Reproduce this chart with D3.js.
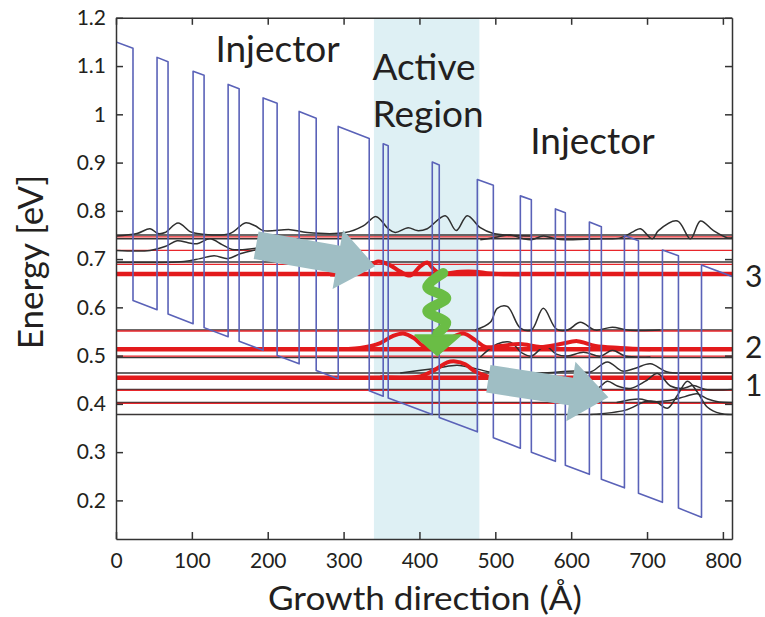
<!DOCTYPE html>
<html><head><meta charset="utf-8">
<script src="https://cdn.jsdelivr.net/npm/d3@7"></script>
<style>
body{margin:0;background:#fff}
svg{display:block}
text{font-family:Lato,"Open Sans",sans-serif;fill:#231f20}
</style>
</head><body>
<svg id="c" width="765" height="617"></svg>
<script>
// ---------- data ----------
const xDomain = [0, 812];
const yDomain = [0.12, 1.2];
const xTicks = [0, 100, 200, 300, 400, 500, 600, 700, 800];
const xTickLabels = ["0", "100", "200", "300", "400", "500", "600", "700", "800"];
const yTicks = [0.2, 0.3, 0.4, 0.5, 0.6, 0.7, 0.8, 0.9, 1.0, 1.1, 1.2];
const yTickLabels = ["0.2", "0.3", "0.4", "0.5", "0.6", "0.7", "0.8", "0.9", "1", "1.1", "1.2"];
const activeRegion = [340, 479];

// conduction band profile vertices (Å, eV)
const profileX = [0, 22.4, 22.4, 54.1, 54.1, 68.6, 68.6, 101.6, 101.6, 116.1, 116.1, 147.8, 147.8, 162.3, 162.3,
  193.9, 193.9, 212.4, 212.4, 241.4, 241.4, 263.9, 263.9, 292.9, 292.9, 333.8, 333.8, 352.2, 352.2, 358.8, 358.8,
  416.9, 416.9, 426.1, 426.1, 476.3, 476.3, 497.4, 497.4, 533.0, 533.0, 547.5, 547.5, 579.2, 579.2, 592.3, 592.3,
  624.0, 624.0, 639.8, 639.8, 670.2, 670.2, 688.7, 688.7, 720.3, 720.3, 741.4, 741.4, 771.8, 771.8, 812];
const profileE = [1.150, 1.137, 0.614, 0.595, 1.118, 1.109, 0.586, 0.566, 1.089, 1.081, 0.558, 0.539, 1.062, 1.053, 0.530,
  0.511, 1.034, 1.023, 0.500, 0.483, 1.006, 0.992, 0.469, 0.452, 0.975, 0.950, 0.427, 0.416, 0.939, 0.935, 0.412,
  0.378, 0.901, 0.895, 0.372, 0.342, 0.865, 0.853, 0.330, 0.308, 0.831, 0.823, 0.300, 0.281, 0.804, 0.796, 0.273,
  0.254, 0.777, 0.767, 0.244, 0.226, 0.749, 0.738, 0.215, 0.196, 0.719, 0.707, 0.184, 0.165, 0.688, 0.664];

// energy levels (eV)
const blackLevels = [0.750, 0.742, 0.694, 0.553, 0.496, 0.464, 0.430, 0.403, 0.378];
const redThinLevels = [0.746, 0.718, 0.689, 0.551, 0.499, 0.428, 0.401];
const redThickLevels = [0.669, 0.513, 0.454];
const levelLabels = ["3", "2", "1"];

// wavefunctions |psi|^2 drawn at their level (Å, eV)
const wfA = [[0,.748],[27.7,.753],[44.9,.763],[55.4,.753],[64.6,.755],[81.8,.775],[97.6,.757],[106.9,.753],[150.4,.753],
  [170.2,.775],[183.4,.769],[194,.759],[229.6,.761],[252,.755],[302.1,.755],[326,.769],[343,.788],[358.8,.763],[368.1,.755],
  [385.2,.765],[397,.759],[410.3,.763],[434,.790],[448.5,.759],[463,.790],[480.2,.765],[497.4,.753],[546.2,.748]];
const wfB = [[480.2,.740],[502.6,.746],[519.8,.750],[536.9,.742],[547.5,.740],[563.3,.748],[579.2,.742],[592.3,.740],
  [638.5,.742],[664.9,.744],[682.1,.757],[691.3,.763],[707.1,.742],[715,.759],[740.1,.779],[757.3,.742],[770.4,.779],
  [787.6,.759],[806.1,.744],[812,.744]];
const wfC = [[0,.718],[44.9,.718],[64.6,.726],[80.5,.738],[95,.734],[106.9,.732],[124,.742],[139.8,.730],[153,.720],
  [170.2,.720],[190.4,.724]];
const wfD = [[0,.693],[89.7,.695],[110.8,.701],[129.3,.707],[147.8,.701],[163.6,.711],[186,.720]];
const wfE1 = [[473.6,.553],[493.4,.569],[502.6,.598],[515.8,.602],[533.0,.557],[547.5,.553],[563.3,.598],[580.5,.555],
  [595.0,.553],[612.1,.569],[631.9,.553],[654.4,.559],[674.2,.553],[717.7,.553]];
const wfE2 = [[480.2,.497],[502.6,.524],[519.8,.528],[535.6,.505],[547.5,.499],[566.0,.520],[580.5,.503],[595.0,.499],
  [616.1,.507],[638.5,.499],[654.4,.511],[671.5,.499],[704.5,.497]];
const wfF = [[374.7,.464],[423.5,.474],[449.9,.480],[476.3,.472],[500.0,.464],[559.4,.464],[605.5,.468],[625.3,.466],
  [647.8,.487],[667.5,.468],[684.7,.474],[704.5,.483],[726.9,.466],[757.3,.464],[812,.464]];
const wfG = [[605.5,.430],[634.6,.432],[647.8,.447],[660.9,.437],[678.1,.432],[697.9,.447],[713.7,.463],[730.9,.437],
  [746.7,.432],[761.2,.438],[777.0,.430],[812,.430]];
const wfH = [[660,.403],[690,.410],[705,.405],[730,.407],[750,.415],[766,.421],[780,.410],[795,.404],[812,.403]];
const wfI = [[625.3,.378],[671.5,.387],[697.9,.405],[711.1,.405],[726.9,.391],[740.1,.418],[753.3,.447],[766.5,.424],
  [779.7,.393],[796.8,.380],[812,.378]];
const wfRed3 = [[282.3,.668],[315.3,.670],[332.5,.685],[345.6,.695],[361.5,.687],[374.7,.674],[387.9,.666],[401.1,.685],
  [410.3,.693],[418.2,.680],[427.4,.670],[453.8,.674],[473.6,.674],[493.4,.670],[533.0,.668]];
const wfRed2 = [[282.3,.513],[321.9,.516],[348.3,.526],[364.1,.540],[378.6,.546],[393.1,.536],[405.0,.520],[420.8,.518],
  [440.6,.536],[457.8,.546],[473.6,.532],[486.8,.518],[506.6,.520],[533.0,.524],[559.4,.518],[585.8,.524],[608.2,.530],
  [631.9,.520],[664.9,.516],[704.5,.513]];
const wfRed1 = [[348.3,.455],[401.1,.457],[420.8,.471],[436.7,.486],[447.2,.488],[460.4,.482],[473.6,.467],[493.4,.455]];

// annotations (Å, eV)
const transportArrows = [
  {from: [184.7, 0.7288], to: [341.7, 0.6854]},
  {from: [490.8, 0.452], to: [649.1, 0.4136]}
];
const photonPath = [[431.4,.671],[410.3,.642],[435.4,.619],[410.3,.592],[435.4,.568],[423.5,.546]];
const photonHead = [[394.5,.5423],[453.8,.5423],[423.5,.5008]];
const regionLabels = [
  {text: "Injector", x: 131, y: 1.108},
  {text: "Active", x: 338, y: 1.072},
  {text: "Region", x: 338, y: 0.974},
  {text: "Injector", x: 546, y: 0.918}
];

// ---------- drawing ----------
const mLeft = 116, mRight = 732, mTop = 17.8, mBottom = 539;
const svg = d3.select("#c");
const x = d3.scaleLinear().domain(xDomain).range([mLeft, mRight]);
const y = d3.scaleLinear().domain(yDomain).range([mBottom, mTop]);

svg.append("defs").append("clipPath").attr("id", "clip")
  .append("rect").attr("x", mLeft).attr("y", mTop).attr("width", mRight - mLeft).attr("height", mBottom - mTop);
const plot = svg.append("g").attr("clip-path", "url(#clip)");

plot.append("rect").attr("x", x(activeRegion[0])).attr("width", x(activeRegion[1]) - x(activeRegion[0]))
  .attr("y", mTop).attr("height", mBottom - mTop).attr("fill", "#def0f4");

function levelLines(cls, data, color, width) {
  plot.selectAll("." + cls).data(data).join("line").attr("class", cls)
    .attr("x1", x(xDomain[0])).attr("x2", x(xDomain[1])).attr("y1", d => y(d)).attr("y2", d => y(d))
    .attr("stroke", color).attr("stroke-width", width);
}
levelLines("bl", blackLevels, "#3a3636", 1.5);
levelLines("rl", redThinLevels, "#e8262b", 1.3);
levelLines("rt", redThickLevels, "#e31a1c", 4.5);

const wline = d3.line().x(d => x(d[0])).y(d => y(d[1])).curve(d3.curveCatmullRom.alpha(0.5));
[wfA, wfB, wfC, wfD, wfE1, wfE2, wfF, wfG, wfH, wfI].forEach(w => {
  plot.append("path").attr("d", wline(w)).attr("fill", "none").attr("stroke", "#2f2f2f").attr("stroke-width", 1.5);
});
[wfRed3, wfRed2, wfRed1].forEach(w => {
  plot.append("path").attr("d", wline(w)).attr("fill", "none").attr("stroke", "#e31a1c").attr("stroke-width", 4);
});

const pline = d3.line().x((d, i) => x(profileX[i])).y((d, i) => y(profileE[i]));
plot.append("path").attr("d", pline(profileX)).attr("fill", "none")
  .attr("stroke", "#5a62b8").attr("stroke-width", 1.6).attr("stroke-linejoin", "round");

// fat transport arrows
function fatArrow(a) {
  const x0 = x(a.from[0]), y0 = y(a.from[1]), x1 = x(a.to[0]), y1 = y(a.to[1]);
  const dx = x1 - x0, dy = y1 - y0, L = Math.hypot(dx, dy), ux = dx / L, uy = dy / L, nx = -uy, ny = ux;
  const bw = 14, hw = 30, hl = 38;
  const bx = x1 - ux * hl, by = y1 - uy * hl;
  const pts = [[x0 + nx * bw, y0 + ny * bw], [bx + nx * bw, by + ny * bw], [bx + nx * hw, by + ny * hw], [x1, y1],
    [bx - nx * hw, by - ny * hw], [bx - nx * bw, by - ny * bw], [x0 - nx * bw, y0 - ny * bw]];
  return "M" + pts.map(p => p.join(",")).join("L") + "Z";
}
plot.selectAll(".arr").data(transportArrows).join("path").attr("class", "arr").attr("d", fatArrow).attr("fill", "#9fbec4");

// photon
plot.append("path").attr("d", d3.line().x(d => x(d[0])).y(d => y(d[1])).curve(d3.curveCatmullRom.alpha(0.5))(photonPath))
  .attr("fill", "none").attr("stroke", "#6abd45").attr("stroke-width", 10).attr("stroke-linecap", "round")
  .attr("stroke-linejoin", "round");
plot.append("path").attr("d", "M" + photonHead.map(d => [x(d[0]), y(d[1])].join(",")).join("L") + "Z")
  .attr("fill", "#6abd45").attr("stroke", "#6abd45").attr("stroke-width", 2).attr("stroke-linejoin", "round");

// axes
const ax = svg.append("g");
ax.append("g").attr("transform", `translate(0,${mBottom})`)
  .call(d3.axisBottom(x).tickValues(xTicks).tickFormat((d, i) => xTickLabels[i]).tickSize(-7).tickSizeOuter(0).tickPadding(14));
ax.append("g").attr("transform", `translate(0,${mTop})`)
  .call(d3.axisTop(x).tickValues(xTicks).tickFormat("").tickSize(-7).tickSizeOuter(0));
ax.append("g").attr("transform", `translate(${mLeft},0)`)
  .call(d3.axisLeft(y).tickValues(yTicks).tickFormat((d, i) => yTickLabels[i]).tickSize(-7).tickSizeOuter(0).tickPadding(10));
ax.append("g").attr("transform", `translate(${mRight},0)`)
  .call(d3.axisRight(y).tickValues(yTicks).tickFormat("").tickSize(-7).tickSizeOuter(0));
ax.selectAll(".domain, .tick line").attr("stroke", "#333").attr("stroke-width", 1.5);
ax.selectAll(".tick text").attr("font-size", 21).attr("fill", "#333").attr("font-family", "Lato");

svg.append("text").attr("x", 425).attr("y", 610).attr("text-anchor", "middle")
  .attr("font-size", 33).attr("textLength", 314).attr("lengthAdjust", "spacingAndGlyphs")
  .text("Growth direction (Å)");
svg.append("text").attr("transform", "translate(43,262) rotate(-90)").attr("text-anchor", "middle")
  .attr("font-size", 35).text("Energy [eV]");

svg.selectAll(".rlab").data(regionLabels).join("text").attr("class", "rlab")
  .attr("x", d => x(d.x)).attr("y", d => y(d.y)).attr("font-size", 37).text(d => d.text);

// level numbers
const labelOffsets = [13, 9, 18];
svg.selectAll(".llab").data(redThickLevels).join("text").attr("class", "llab")
  .attr("font-size", 30).attr("x", 745).attr("y", (d, i) => y(d) + labelOffsets[i]).text((d, i) => levelLabels[i]);
</script>
</body></html>
